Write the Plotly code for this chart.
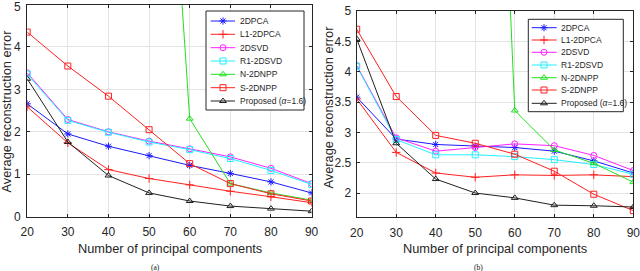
import plotly.graph_objects as go

W, H = 640, 271

x_pc = [20, 30, 40, 50, 60, 70, 80, 90]
names = ["2DPCA", "L1-2DPCA", "2DSVD", "R1-2DSVD", "N-2DNPP", "S-2DNPP", "Proposed (<i>α</i>=1.6)"]

# (a)
a_2dpca = [2.66, 1.95, 1.66, 1.44, 1.21, 1.02, 0.82, 0.56]
a_l1 = [2.59, 1.74, 1.11, 0.90, 0.75, 0.60, 0.47, 0.33]
a_2dsvd = [3.39, 2.29, 2.00, 1.78, 1.60, 1.41, 1.14, 0.78]
a_r1 = [3.36, 2.27, 1.99, 1.76, 1.58, 1.37, 1.09, 0.76]
a_n2dnpp = [30.0, 26.0, 21.0, 16.6, 2.31, 0.78, 0.56, 0.39]
a_s2dnpp = [4.35, 3.55, 2.84, 2.05, 1.25, 0.78, 0.54, 0.37]
a_prop = [3.25, 1.76, 0.97, 0.56, 0.37, 0.25, 0.19, 0.13]

# (b)
b_2dpca = [3.58, 2.89, 2.80, 2.77, 2.75, 2.69, 2.53, 2.33]
b_l1 = [3.55, 2.67, 2.33, 2.26, 2.30, 2.29, 2.30, 2.27]
b_2dsvd = [4.10, 2.91, 2.69, 2.75, 2.81, 2.78, 2.62, 2.37]
b_r1 = [4.09, 2.88, 2.63, 2.63, 2.60, 2.55, 2.47, 2.31]
b_n2dnpp = [30.0, 26.0, 22.0, 18.4, 3.36, 2.71, 2.49, 2.18]
b_s2dnpp = [4.70, 3.59, 2.95, 2.82, 2.64, 2.36, 1.98, 1.71]
b_prop = [4.54, 2.82, 2.23, 2.00, 1.92, 1.80, 1.79, 1.77]

a_x_ticks = [20, 30, 40, 50, 60, 70, 80, 90]
a_y_ticks = [0, 1, 2, 3, 4, 5]
a_y_ticktext = ["0", "1", "2", "3", "4", ""]   # top "5" drawn as an annotation below
b_y_ticks = [2, 2.5, 3, 3.5, 4, 4.5, 5]
b_y_ticktext = ["2", "2.5", "3", "3.5", "4", "4.5", "5"]

colors = ["#1a1aff", "#ff2020", "#ff20ff", "#20f0ff", "#20e020", "#ff2020", "#202020"]
symbols = ["asterisk-open", "cross-thin-open", "circle-open", "square-open",
           "triangle-up-open", "square-open", "triangle-up-open"]

FONT = "Liberation Sans, Arial, sans-serif"
AXC = "#262626"

def px(v):
    return v / W

def py(v):
    return 1 - v / H

fig = go.Figure()

series_a = [a_2dpca, a_l1, a_2dsvd, a_r1, a_n2dnpp, a_s2dnpp, a_prop]
series_b = [b_2dpca, b_l1, b_2dsvd, b_r1, b_n2dnpp, b_s2dnpp, b_prop]

for i, ys in enumerate(series_a):
    fig.add_trace(go.Scatter(x=x_pc, y=ys, mode="lines+markers", xaxis="x", yaxis="y",
                             line=dict(color=colors[i], width=1),
                             marker=dict(symbol=symbols[i], size=6, color=colors[i],
                                         line=dict(color=colors[i], width=1)),
                             cliponaxis=True, showlegend=False))
for i, ys in enumerate(series_b):
    fig.add_trace(go.Scatter(x=x_pc, y=ys, mode="lines+markers", xaxis="x2", yaxis="y2",
                             line=dict(color=colors[i], width=1),
                             marker=dict(symbol=symbols[i], size=6, color=colors[i],
                                         line=dict(color=colors[i], width=1)),
                             cliponaxis=True, showlegend=False))

# Legend boxes (pixel coordinate overlay axis)
legends = [
    dict(box=(206, 11, 304, 110), ys=[21, 34.3, 47.7, 61, 74.3, 87.7, 101],
         lx=(210.7, 235), mx=223, tx=238.3),
    dict(box=(528.3, 19.3, 623.3, 111.7), ys=[27.7, 40, 52.3, 65, 77.7, 90, 103.3],
         lx=(531.7, 556.7), mx=544, tx=559.3),
]

shapes = []
annotations = []
for lg in legends:
    x0, y0, x1, y1 = lg["box"]
    shapes.append(dict(type="rect", xref="x3", yref="y3", x0=x0, y0=y0, x1=x1, y1=y1,
                       fillcolor="white", line=dict(color=AXC, width=1), layer="between"))
    for i, yy in enumerate(lg["ys"]):
        fig.add_trace(go.Scatter(x=[lg["lx"][0], lg["lx"][1]], y=[yy, yy], mode="lines",
                                 xaxis="x3", yaxis="y3", line=dict(color=colors[i], width=1),
                                 showlegend=False, hoverinfo="skip"))
        fig.add_trace(go.Scatter(x=[lg["mx"]], y=[yy], mode="markers",
                                 xaxis="x3", yaxis="y3",
                                 marker=dict(symbol=symbols[i], size=6, color=colors[i],
                                             line=dict(color=colors[i], width=1)),
                                 showlegend=False, hoverinfo="skip"))
        annotations.append(dict(xref="x3", yref="y3", x=lg["tx"], y=yy, text=names[i],
                                showarrow=False, xanchor="left", yanchor="middle",
                                font=dict(family=FONT, size=8.5, color=AXC)))

# top tick label of (a), nudged down so it stays inside the page
annotations.append(dict(xref="paper", yref="y", x=px(23), y=a_y_ticks[-1], yshift=-2.5,
                        text=str(a_y_ticks[-1]), showarrow=False, xanchor="right",
                        yanchor="middle", font=dict(family=FONT, size=12, color=AXC)))

# axis titles & captions
for cx, cy in [(169.5, 248), (495, 248)]:
    annotations.append(dict(xref="paper", yref="paper", x=px(cx), y=py(cy),
                            text="Number of principal components", showarrow=False,
                            xanchor="center", yanchor="middle",
                            font=dict(family=FONT, size=12.8, color=AXC)))
for cx, cy in [(5.5, 111), (327.5, 107)]:
    annotations.append(dict(xref="paper", yref="paper", x=px(cx), y=py(cy),
                            text="Average reconstruction error", showarrow=False,
                            textangle=-90, xanchor="center", yanchor="middle",
                            font=dict(family=FONT, size=12.8, color=AXC)))
for cx, cy, t in [(155, 267, "(a)"), (478.5, 267, "(b)")]:
    annotations.append(dict(xref="paper", yref="paper", x=px(cx), y=py(cy), text=t,
                            showarrow=False, xanchor="center", yanchor="middle",
                            font=dict(family="Liberation Serif, Times New Roman, serif",
                                      size=7.5, color="#111")))

common_ax = dict(showline=True, linecolor=AXC, linewidth=1, mirror="ticks",
                 ticks="inside", ticklen=3, tickcolor=AXC, tickwidth=1,
                 showgrid=True, gridcolor="#e3e3e3", gridwidth=1, zeroline=False,
                 automargin=False, ticklabeloverflow="allow",
                 tickfont=dict(family=FONT, size=12, color=AXC))

fig.update_layout(
    width=W, height=H, autosize=False,
    margin=dict(l=0, r=0, t=0, b=0),
    paper_bgcolor="white", plot_bgcolor="rgba(0,0,0,0)",
    xaxis=dict(domain=[px(27.2), px(311.6)], range=[20, 90], tickvals=a_x_ticks,
               anchor="y", ticklabelstandoff=4, **common_ax),
    yaxis=dict(domain=[py(216.7), py(4.5)], range=[0, 5], tickvals=a_y_ticks,
               ticktext=a_y_ticktext, anchor="x", ticklabelstandoff=3, **common_ax),
    xaxis2=dict(domain=[px(356.7), px(633.3)], range=[20, 90], tickvals=a_x_ticks,
                anchor="y2", ticklabelstandoff=4, **common_ax),
    yaxis2=dict(domain=[py(217.3), py(11)], range=[1.6, 5], tickvals=b_y_ticks,
                ticktext=b_y_ticktext, anchor="x2", ticklabelstandoff=2, **common_ax),
    xaxis3=dict(domain=[0, 1], range=[0, W], visible=False, anchor="y3", fixedrange=True),
    yaxis3=dict(domain=[0, 1], range=[H, 0], visible=False, anchor="x3", fixedrange=True),
    shapes=shapes,
    annotations=annotations,
    showlegend=False,
)

fig.write_html("out.html", config={"displayModeBar": False},
               post_script="document.body.style.margin='0';document.body.style.overflow='hidden';")
